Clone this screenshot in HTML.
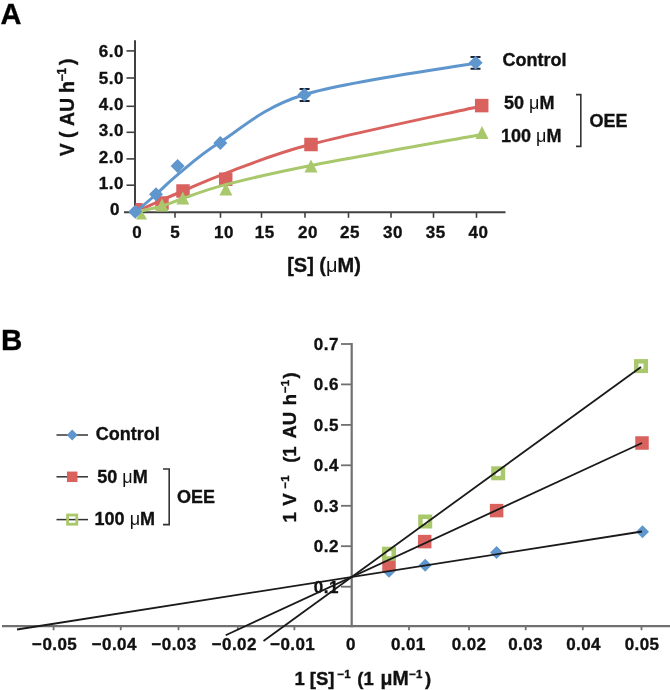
<!DOCTYPE html>
<html><head><meta charset="utf-8"><style>
html,body{margin:0;padding:0;background:#fff;width:670px;height:690px;overflow:hidden}
svg{display:block;filter:blur(0.5px)} text{stroke:#111;stroke-width:0.35px}
</style></head><body>
<svg width="670" height="690" viewBox="0 0 670 690">
<text x="0.5" y="24" font-family="Liberation Sans, sans-serif" font-weight="bold" font-size="29" fill="#000">A</text>
<text x="1" y="349.5" font-family="Liberation Sans, sans-serif" font-weight="bold" font-size="29.5" fill="#000">B</text>
<line x1="135" y1="40.2" x2="135" y2="213" stroke="#404040" stroke-width="2"/>
<line x1="124" y1="212.3" x2="505.5" y2="212.3" stroke="#404040" stroke-width="2"/>
<line x1="126.5" y1="50.9" x2="135" y2="50.9" stroke="#404040" stroke-width="1.6"/>
<text x="124" y="57.2" font-family="Liberation Sans, sans-serif" font-weight="bold" font-size="17" letter-spacing="0.5" text-anchor="end" fill="#111">6.0</text>
<line x1="126.5" y1="78" x2="135" y2="78" stroke="#404040" stroke-width="1.6"/>
<text x="124" y="83.8" font-family="Liberation Sans, sans-serif" font-weight="bold" font-size="17" letter-spacing="0.5" text-anchor="end" fill="#111">5.0</text>
<line x1="126.5" y1="106.3" x2="135" y2="106.3" stroke="#404040" stroke-width="1.6"/>
<text x="124" y="110.2" font-family="Liberation Sans, sans-serif" font-weight="bold" font-size="17" letter-spacing="0.5" text-anchor="end" fill="#111">4.0</text>
<line x1="126.5" y1="132.3" x2="135" y2="132.3" stroke="#404040" stroke-width="1.6"/>
<text x="124" y="136.2" font-family="Liberation Sans, sans-serif" font-weight="bold" font-size="17" letter-spacing="0.5" text-anchor="end" fill="#111">3.0</text>
<line x1="126.5" y1="158.9" x2="135" y2="158.9" stroke="#404040" stroke-width="1.6"/>
<text x="124" y="163.1" font-family="Liberation Sans, sans-serif" font-weight="bold" font-size="17" letter-spacing="0.5" text-anchor="end" fill="#111">2.0</text>
<line x1="126.5" y1="185.2" x2="135" y2="185.2" stroke="#404040" stroke-width="1.6"/>
<text x="124" y="189.3" font-family="Liberation Sans, sans-serif" font-weight="bold" font-size="17" letter-spacing="0.5" text-anchor="end" fill="#111">1.0</text>
<text x="120" y="215.3" font-family="Liberation Sans, sans-serif" font-weight="bold" font-size="17" letter-spacing="0.5" text-anchor="end" fill="#111">0</text>
<text x="137.2" y="238.2" font-family="Liberation Sans, sans-serif" font-weight="bold" font-size="17" letter-spacing="0.5" text-anchor="middle" fill="#111">0</text>
<line x1="175" y1="212" x2="175" y2="217.8" stroke="#404040" stroke-width="1.6"/>
<text x="175.2" y="238.2" font-family="Liberation Sans, sans-serif" font-weight="bold" font-size="17" letter-spacing="0.5" text-anchor="middle" fill="#111">5</text>
<line x1="220.5" y1="212" x2="220.5" y2="217.8" stroke="#404040" stroke-width="1.6"/>
<text x="224" y="238.2" font-family="Liberation Sans, sans-serif" font-weight="bold" font-size="17" letter-spacing="0.5" text-anchor="middle" fill="#111">10</text>
<line x1="261.5" y1="212" x2="261.5" y2="217.8" stroke="#404040" stroke-width="1.6"/>
<text x="264.7" y="238.2" font-family="Liberation Sans, sans-serif" font-weight="bold" font-size="17" letter-spacing="0.5" text-anchor="middle" fill="#111">15</text>
<line x1="305" y1="212" x2="305" y2="217.8" stroke="#404040" stroke-width="1.6"/>
<text x="308" y="238.2" font-family="Liberation Sans, sans-serif" font-weight="bold" font-size="17" letter-spacing="0.5" text-anchor="middle" fill="#111">20</text>
<line x1="348.5" y1="212" x2="348.5" y2="217.8" stroke="#404040" stroke-width="1.6"/>
<text x="350" y="238.2" font-family="Liberation Sans, sans-serif" font-weight="bold" font-size="17" letter-spacing="0.5" text-anchor="middle" fill="#111">25</text>
<line x1="391" y1="212" x2="391" y2="217.8" stroke="#404040" stroke-width="1.6"/>
<text x="393" y="238.2" font-family="Liberation Sans, sans-serif" font-weight="bold" font-size="17" letter-spacing="0.5" text-anchor="middle" fill="#111">30</text>
<line x1="433.5" y1="212" x2="433.5" y2="217.8" stroke="#404040" stroke-width="1.6"/>
<text x="435.8" y="238.2" font-family="Liberation Sans, sans-serif" font-weight="bold" font-size="17" letter-spacing="0.5" text-anchor="middle" fill="#111">35</text>
<line x1="476.5" y1="212" x2="476.5" y2="217.8" stroke="#404040" stroke-width="1.6"/>
<text x="478.5" y="238.2" font-family="Liberation Sans, sans-serif" font-weight="bold" font-size="17" letter-spacing="0.5" text-anchor="middle" fill="#111">40</text>
<text x="324" y="271.5" font-family="Liberation Sans, sans-serif" font-weight="bold" font-size="20" text-anchor="middle" fill="#111">[S] (<tspan font-weight="normal" stroke-width="0">μ</tspan>M)</text>
<text transform="translate(73.7,0) rotate(-90)" font-family="Liberation Sans, sans-serif" font-weight="bold" font-size="19.5" fill="#111"><tspan x="-156.2" y="0">V</tspan><tspan x="-138" y="0">(</tspan><tspan x="-126" y="0">AU</tspan><tspan x="-93" y="0">h</tspan><tspan x="-81.5" y="-8.200000000000003" font-size="12">−1</tspan><tspan x="-65" y="0">)</tspan></text>
<path d="M135.0,212.3 C139.5,210.2 154.0,203.6 162.0,200.0 C170.0,196.4 172.4,195.4 183.0,191.0 C193.6,186.6 204.4,181.1 225.7,173.3 C247.0,165.5 268.4,155.5 311.0,144.3 C353.6,133.1 453.1,112.4 481.5,106.0" fill="none" stroke="#d9625f" stroke-width="3"/>
<rect x="135.5" y="203.0" width="7" height="7" fill="#d9625f"/>
<rect x="155.25" y="196.25" width="13.5" height="13.5" fill="#d9625f"/>
<rect x="176.25" y="184.25" width="13.5" height="13.5" fill="#d9625f"/>
<rect x="218.95" y="172.45" width="13.5" height="13.5" fill="#d9625f"/>
<rect x="304.25" y="137.75" width="13.5" height="13.5" fill="#d9625f"/>
<rect x="474.95" y="98.85" width="13.5" height="13.5" fill="#d9625f"/>
<path d="M135.0,212.3 C139.5,211.2 154.0,208.3 162.0,206.0 C170.0,203.7 172.4,202.1 183.0,198.5 C193.6,194.9 204.4,190.1 225.7,184.6 C247.0,179.1 268.4,173.9 311.0,165.5 C353.6,157.1 453.1,139.6 481.5,134.4" fill="none" stroke="#a9c86c" stroke-width="3"/>
<path d="M141.5,209.5 L147.0,219.5 L136.0,219.5 Z" fill="#a9c86c"/>
<path d="M162,198.5 L168.5,211.5 L155.5,211.5 Z" fill="#a9c86c"/>
<path d="M182.8,191.5 L189.3,204.5 L176.3,204.5 Z" fill="#a9c86c"/>
<path d="M225.9,182.5 L232.4,195.5 L219.4,195.5 Z" fill="#a9c86c"/>
<path d="M311,159.5 L317.5,172.5 L304.5,172.5 Z" fill="#a9c86c"/>
<path d="M482,126.0 L488.5,139.0 L475.5,139.0 Z" fill="#a9c86c"/>
<path d="M135.0,212.3 C138.5,209.3 148.9,200.8 156.0,194.5 C163.1,188.2 166.7,183.6 177.4,174.8 C188.1,166.1 199.1,155.4 220.3,142.0 C241.5,128.6 261.9,107.7 304.6,94.5 C347.3,81.3 447.8,68.2 476.4,63.0" fill="none" stroke="#5f96cd" stroke-width="3"/>
<path d="M304.6,89 L304.6,101 M299.6,89 L309.6,89 M299.6,101 L309.6,101" stroke="#1b2535" stroke-width="2" fill="none"/>
<path d="M475.5,57 L475.5,68.8 M470.5,57 L480.5,57 M470.5,68.8 L480.5,68.8" stroke="#1b2535" stroke-width="2" fill="none"/>
<path d="M135.2,204.8 L142.2,211.8 L135.2,218.8 L128.2,211.8 Z" fill="#5f96cd"/>
<path d="M156,187.3 L163,194.3 L156,201.3 L149,194.3 Z" fill="#5f96cd"/>
<path d="M177.6,159 L184.6,166 L177.6,173 L170.6,166 Z" fill="#5f96cd"/>
<path d="M220.3,136 L227.3,143 L220.3,150 L213.3,143 Z" fill="#5f96cd"/>
<path d="M304.4,87.8 L311.4,94.8 L304.4,101.8 L297.4,94.8 Z" fill="#5f96cd"/>
<path d="M475.6,55.8 L482.6,62.8 L475.6,69.8 L468.6,62.8 Z" fill="#5f96cd"/>
<text x="502.5" y="66" font-family="Liberation Sans, sans-serif" font-weight="bold" font-size="18" fill="#111">Control</text>
<text x="504" y="109" font-family="Liberation Sans, sans-serif" font-weight="bold" font-size="18" fill="#111">50 <tspan font-weight="normal" stroke-width="0">μ</tspan>M</text>
<text x="501" y="141.5" font-family="Liberation Sans, sans-serif" font-weight="bold" font-size="18" fill="#111">100 <tspan font-weight="normal" stroke-width="0">μ</tspan>M</text>
<path d="M576,94.6 L580.8,94.6 L580.8,146.4 L576,146.4" stroke="#333" stroke-width="1.6" fill="none"/>
<text x="589.5" y="127" font-family="Liberation Sans, sans-serif" font-weight="bold" font-size="18" fill="#111">OEE</text>
<line x1="351.7" y1="343" x2="351.7" y2="627.2" stroke="#707070" stroke-width="2.2"/>
<line x1="2" y1="626.2" x2="670" y2="626.2" stroke="#707070" stroke-width="2.2"/>
<line x1="341" y1="344.0" x2="351.7" y2="344.0" stroke="#707070" stroke-width="1.8"/>
<text x="339" y="350.0" font-family="Liberation Sans, sans-serif" font-weight="bold" font-size="17" letter-spacing="0.5" text-anchor="end" fill="#111">0.7</text>
<line x1="341" y1="384.4" x2="351.7" y2="384.4" stroke="#707070" stroke-width="1.8"/>
<text x="339" y="390.4" font-family="Liberation Sans, sans-serif" font-weight="bold" font-size="17" letter-spacing="0.5" text-anchor="end" fill="#111">0.6</text>
<line x1="341" y1="424.9" x2="351.7" y2="424.9" stroke="#707070" stroke-width="1.8"/>
<text x="339" y="430.9" font-family="Liberation Sans, sans-serif" font-weight="bold" font-size="17" letter-spacing="0.5" text-anchor="end" fill="#111">0.5</text>
<line x1="341" y1="465.3" x2="351.7" y2="465.3" stroke="#707070" stroke-width="1.8"/>
<text x="339" y="471.3" font-family="Liberation Sans, sans-serif" font-weight="bold" font-size="17" letter-spacing="0.5" text-anchor="end" fill="#111">0.4</text>
<line x1="341" y1="505.8" x2="351.7" y2="505.8" stroke="#707070" stroke-width="1.8"/>
<text x="339" y="511.8" font-family="Liberation Sans, sans-serif" font-weight="bold" font-size="17" letter-spacing="0.5" text-anchor="end" fill="#111">0.3</text>
<line x1="341" y1="546.2" x2="351.7" y2="546.2" stroke="#707070" stroke-width="1.8"/>
<text x="339" y="552.2" font-family="Liberation Sans, sans-serif" font-weight="bold" font-size="17" letter-spacing="0.5" text-anchor="end" fill="#111">0.2</text>
<line x1="341" y1="586.7" x2="351.7" y2="586.7" stroke="#707070" stroke-width="1.8"/>
<text x="339" y="592.7" font-family="Liberation Sans, sans-serif" font-weight="bold" font-size="17" letter-spacing="0.5" text-anchor="end" fill="#111">0.1</text>
<line x1="53.6" y1="626.2" x2="53.6" y2="630.2" stroke="#707070" stroke-width="1.8"/>
<text x="54.6" y="650.3" font-family="Liberation Sans, sans-serif" font-weight="bold" font-size="17" letter-spacing="0.4" text-anchor="middle" fill="#111">−0.05</text>
<line x1="120.75" y1="626.2" x2="120.75" y2="630.2" stroke="#707070" stroke-width="1.8"/>
<text x="114.3" y="650.3" font-family="Liberation Sans, sans-serif" font-weight="bold" font-size="17" letter-spacing="0.4" text-anchor="middle" fill="#111">−0.04</text>
<line x1="178.5" y1="626.2" x2="178.5" y2="630.2" stroke="#707070" stroke-width="1.8"/>
<text x="174" y="650.3" font-family="Liberation Sans, sans-serif" font-weight="bold" font-size="17" letter-spacing="0.4" text-anchor="middle" fill="#111">−0.03</text>
<line x1="237.8" y1="626.2" x2="237.8" y2="630.2" stroke="#707070" stroke-width="1.8"/>
<text x="234.3" y="650.3" font-family="Liberation Sans, sans-serif" font-weight="bold" font-size="17" letter-spacing="0.4" text-anchor="middle" fill="#111">−0.02</text>
<line x1="294.4" y1="626.2" x2="294.4" y2="630.2" stroke="#707070" stroke-width="1.8"/>
<text x="292.7" y="650.3" font-family="Liberation Sans, sans-serif" font-weight="bold" font-size="17" letter-spacing="0.4" text-anchor="middle" fill="#111">−0.01</text>
<text x="351" y="650.3" font-family="Liberation Sans, sans-serif" font-weight="bold" font-size="17" letter-spacing="0.4" text-anchor="middle" fill="#111">0</text>
<line x1="409" y1="626.2" x2="409" y2="630.2" stroke="#707070" stroke-width="1.8"/>
<text x="408.3" y="650.3" font-family="Liberation Sans, sans-serif" font-weight="bold" font-size="17" letter-spacing="0.4" text-anchor="middle" fill="#111">0.01</text>
<line x1="469" y1="626.2" x2="469" y2="630.2" stroke="#707070" stroke-width="1.8"/>
<text x="469" y="650.3" font-family="Liberation Sans, sans-serif" font-weight="bold" font-size="17" letter-spacing="0.4" text-anchor="middle" fill="#111">0.02</text>
<line x1="525.7" y1="626.2" x2="525.7" y2="630.2" stroke="#707070" stroke-width="1.8"/>
<text x="525.5" y="650.3" font-family="Liberation Sans, sans-serif" font-weight="bold" font-size="17" letter-spacing="0.4" text-anchor="middle" fill="#111">0.03</text>
<line x1="582.8" y1="626.2" x2="582.8" y2="630.2" stroke="#707070" stroke-width="1.8"/>
<text x="583.5" y="650.3" font-family="Liberation Sans, sans-serif" font-weight="bold" font-size="17" letter-spacing="0.4" text-anchor="middle" fill="#111">0.04</text>
<line x1="641.5" y1="626.2" x2="641.5" y2="630.2" stroke="#707070" stroke-width="1.8"/>
<text x="642" y="650.3" font-family="Liberation Sans, sans-serif" font-weight="bold" font-size="17" letter-spacing="0.4" text-anchor="middle" fill="#111">0.05</text>
<text y="685" font-family="Liberation Sans, sans-serif" font-weight="bold" font-size="18.5" fill="#111"><tspan x="294.5">1</tspan><tspan x="309.8">[S]</tspan><tspan x="337.6" y="677.5" font-size="11.5">−1</tspan><tspan x="357.3" y="685">(1</tspan><tspan x="380.6" font-size="19.5">μM</tspan><tspan x="409.2" y="677.5" font-size="11.5">−1</tspan><tspan x="425" y="685">)</tspan></text>
<text transform="translate(295.5,0) rotate(-90)" font-family="Liberation Sans, sans-serif" font-weight="bold" font-size="18.5" fill="#111"><tspan x="-522.5" y="0">1</tspan><tspan x="-505.8" y="0">V</tspan><tspan x="-488.5" y="-7.0" font-size="11.5">−1</tspan><tspan x="-462.8" y="0">(1</tspan><tspan x="-438.6" y="0">AU</tspan><tspan x="-405.3" y="0">h</tspan><tspan x="-393" y="-7.0" font-size="11.5">−1</tspan><tspan x="-378.5" y="0">)</tspan></text>
<path d="M389,564.7 L395.5,571.2 L389,577.7 L382.5,571.2 Z" fill="#5f96cd"/>
<path d="M425.2,558.8 L431.7,565.3 L425.2,571.8 L418.7,565.3 Z" fill="#5f96cd"/>
<path d="M496.6,546.0 L503.1,552.5 L496.6,559.0 L490.1,552.5 Z" fill="#5f96cd"/>
<path d="M642.5,525.2 L649.0,531.7 L642.5,538.2 L636.0,531.7 Z" fill="#5f96cd"/>
<rect x="382.25" y="557.75" width="13.5" height="13.5" fill="#d9625f"/>
<rect x="417.95" y="534.85" width="13.5" height="13.5" fill="#d9625f"/>
<rect x="489.85" y="503.85" width="13.5" height="13.5" fill="#d9625f"/>
<rect x="635.25" y="436.25" width="13.5" height="13.5" fill="#d9625f"/>
<rect x="384.25" y="548.95" width="9.5" height="9.5" fill="none" stroke="#a9c86c" stroke-width="4.5"/>
<rect x="420.45" y="516.75" width="9.5" height="9.5" fill="none" stroke="#a9c86c" stroke-width="4.5"/>
<rect x="493.45" y="468.55" width="9.5" height="9.5" fill="none" stroke="#a9c86c" stroke-width="4.5"/>
<rect x="636.25" y="361.35" width="9.5" height="9.5" fill="none" stroke="#a9c86c" stroke-width="4.5"/>
<line x1="17" y1="629.5" x2="642" y2="531.5" stroke="#1a1a1a" stroke-width="1.8"/>
<line x1="225.7" y1="635.2" x2="642" y2="443" stroke="#1a1a1a" stroke-width="1.8"/>
<line x1="263.5" y1="641.0" x2="641" y2="367" stroke="#1a1a1a" stroke-width="1.8"/>
<line x1="56.5" y1="435" x2="88" y2="435" stroke="#333" stroke-width="1.5"/>
<line x1="56.5" y1="476.8" x2="88" y2="476.8" stroke="#333" stroke-width="1.5"/>
<line x1="56.5" y1="519.6" x2="88" y2="519.6" stroke="#333" stroke-width="1.5"/>
<path d="M72.2,429.5 L77.7,435 L72.2,440.5 L66.7,435 Z" fill="#5f96cd"/>
<rect x="66.95" y="471.55" width="10.5" height="10.5" fill="#d9625f"/>
<rect x="67.60000000000001" y="515.0" width="9.2" height="9.2" fill="none" stroke="#a9c86c" stroke-width="2.8"/>
<text x="95.8" y="440" font-family="Liberation Sans, sans-serif" font-weight="bold" font-size="18" fill="#111">Control</text>
<text x="97.3" y="483" font-family="Liberation Sans, sans-serif" font-weight="bold" font-size="18" fill="#111">50 <tspan font-weight="normal" stroke-width="0">μ</tspan>M</text>
<text x="94.6" y="525" font-family="Liberation Sans, sans-serif" font-weight="bold" font-size="18" fill="#111">100 <tspan font-weight="normal" stroke-width="0">μ</tspan>M</text>
<path d="M163,469 L169.2,469 L169.2,524.6 L163,524.6" stroke="#333" stroke-width="1.6" fill="none"/>
<text x="177" y="503.3" font-family="Liberation Sans, sans-serif" font-weight="bold" font-size="18" fill="#111">OEE</text>
</svg>
</body></html>
